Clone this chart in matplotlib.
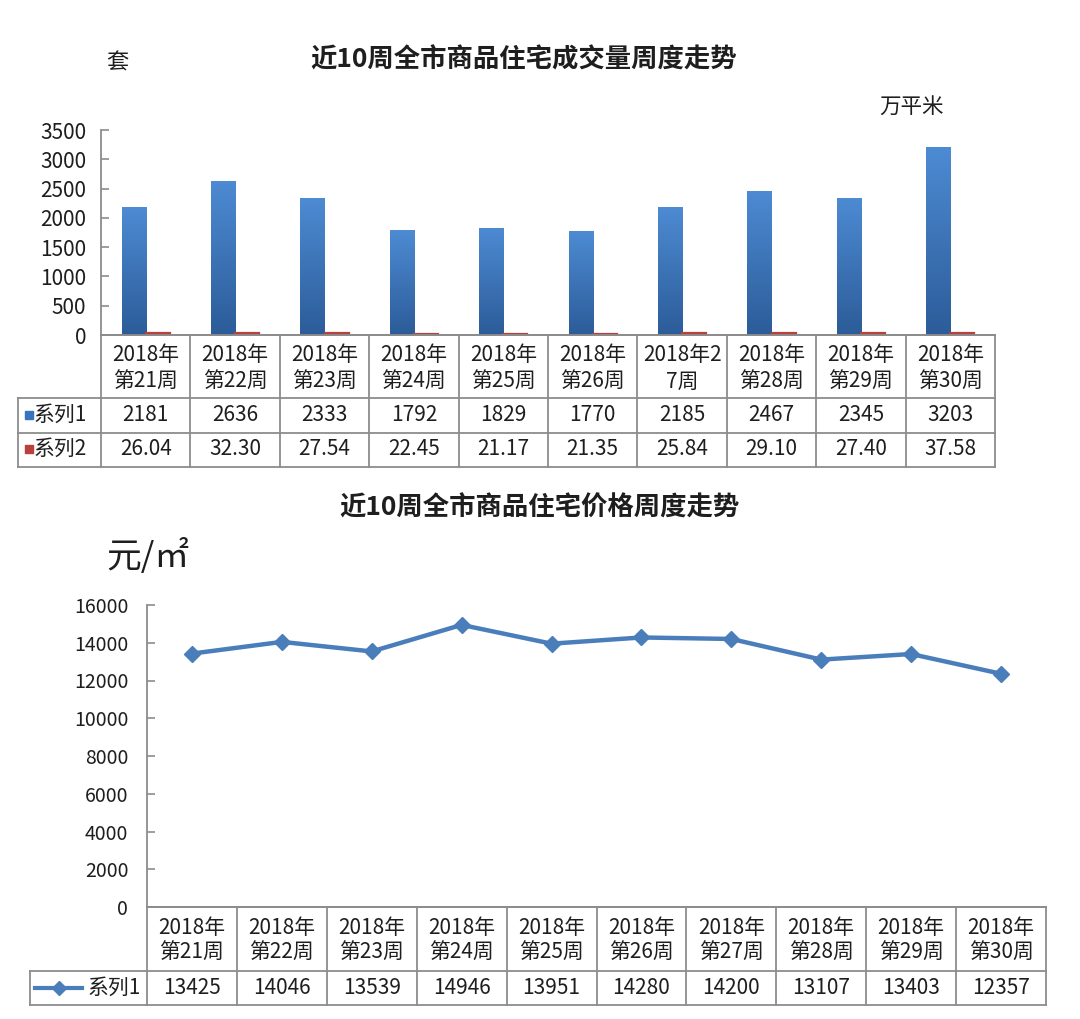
import matplotlib
matplotlib.use('Agg')
import matplotlib.pyplot as plt
import numpy as np
from matplotlib.transforms import blended_transform_factory
from matplotlib.colors import LinearSegmentedColormap
from matplotlib.lines import Line2D

plt.rcParams['font.family'] = ['Noto Sans CJK SC', 'DejaVu Sans']

# ---------------- data ----------------
title1 = '近10周全市商品住宅成交量周度走势'
title2 = '近10周全市商品住宅价格周度走势'
unit_left1 = '套'
unit_right1 = '万平米'
unit2 = '元/㎡'
cats1 = ['2018年\n第21周', '2018年\n第22周', '2018年\n第23周', '2018年\n第24周',
         '2018年\n第25周', '2018年\n第26周', '2018年2\n7周', '2018年\n第28周',
         '2018年\n第29周', '2018年\n第30周']
cats2 = ['2018年\n第21周', '2018年\n第22周', '2018年\n第23周', '2018年\n第24周',
         '2018年\n第25周', '2018年\n第26周', '2018年\n第27周', '2018年\n第28周',
         '2018年\n第29周', '2018年\n第30周']
series1_name = '系列1'
series2_name = '系列2'
units_sold = [2181, 2636, 2333, 1792, 1829, 1770, 2185, 2467, 2345, 3203]
area_sold = [26.04, 32.30, 27.54, 22.45, 21.17, 21.35, 25.84, 29.10, 27.40, 37.58]
price = [13425, 14046, 13539, 14946, 13951, 14280, 14200, 13107, 13403, 12357]
yticks1 = [0, 500, 1000, 1500, 2000, 2500, 3000, 3500]
yticks2 = [0, 2000, 4000, 6000, 8000, 10000, 12000, 14000, 16000]

# ---------------- style ----------------
W, H, DPI = 1080, 1019, 100
BLUE_TOP, BLUE_BOT = '#4d8bd3', '#2c5c99'
RED = '#b8403d'
LINE = '#4a7ebb'
GRID = '#8c8c8c'
TXT = '#1e1e1e'

fig = plt.figure(figsize=(W / DPI, H / DPI), dpi=DPI)
fig.patch.set_facecolor('white')


def fy(py):
    return 1 - py / H


def fx(px):
    return px / W


def px_axes(l, t, r, b):
    return fig.add_axes([l / W, 1 - b / H, (r - l) / W, (b - t) / H])


def style_axes(ax, ticks, labelsize, pad):
    for s in ['top', 'right']:
        ax.spines[s].set_visible(False)
    for s in ['left', 'bottom']:
        ax.spines[s].set_color(GRID)
        ax.spines[s].set_linewidth(1.3)
    ax.set_yticks(ticks)
    ax.set_yticklabels([str(t) for t in ticks])
    ax.tick_params(axis='y', direction='in', length=6, width=1.2, color=GRID,
                   labelsize=labelsize, labelcolor=TXT, pad=pad)
    ax.set_xticks([])


def hline(x0, x1, y, trans):
    fig.add_artist(Line2D([x0, x1], [fy(y), fy(y)], transform=trans,
                          color=GRID, lw=1.3))


def vline(x, y0, y1, trans):
    fig.add_artist(Line2D([x, x], [fy(y0), fy(y1)], transform=trans,
                          color=GRID, lw=1.3))


def draw_table(ax, headers, rows, leg_left_px, y_top, y_hdr, row_bottoms,
               hdr_y, row_ys, fs):
    n = len(headers)
    trans = blended_transform_factory(ax.transData, fig.transFigure)
    bounds = np.arange(n + 1) - 0.5
    y_bottom = row_bottoms[-1]
    # horizontal lines
    for yb in [y_hdr] + list(row_bottoms):
        hline(bounds[0], bounds[-1], yb, trans)
        hline(fx(leg_left_px), ax.get_position().x0, yb, fig.transFigure)
    hline(bounds[0], bounds[-1], y_top, trans)
    # vertical lines
    for b in bounds:
        vline(b, y_top, y_bottom, trans)
    vline(fx(leg_left_px), y_hdr, y_bottom, fig.transFigure)
    # header text
    for i, lab in enumerate(headers):
        l1, l2 = lab.split('\n')
        fig.text(i, fy(hdr_y[0]), l1, transform=trans, ha='center', va='center',
                 fontsize=fs, color=TXT)
        fig.text(i, fy(hdr_y[1]), l2, transform=trans, ha='center', va='center',
                 fontsize=fs, color=TXT)
    # row values
    for vals, yc in zip(rows, row_ys):
        for i, v in enumerate(vals):
            fig.text(i, fy(yc), v, transform=trans, ha='center', va='center',
                     fontsize=fs, color=TXT)


# ================= Chart 1 =================
ax1 = px_axes(101, 130, 995, 335)
n = len(units_sold)
x = np.arange(n)
bw = 0.27
blue_cmap = LinearSegmentedColormap.from_list('b', [BLUE_BOT, BLUE_TOP])
bars = ax1.bar(x - bw / 2, units_sold, bw, color=BLUE_BOT, zorder=2)
grad = np.linspace(1, 0, 256).reshape(-1, 1)
for b in bars:
    im = ax1.imshow(grad, extent=[b.get_x(), b.get_x() + b.get_width(), 0, b.get_height()],
                    aspect='auto', cmap=blue_cmap, origin='upper', zorder=3, vmin=0, vmax=1)
    im.set_clip_path(b)
ax1.bar(x + bw / 2, area_sold, bw, color=RED, edgecolor=RED, lw=1.6, zorder=3)
ax1.set_xlim(-0.5, n - 0.5)
ax1.set_ylim(0, 3500)
style_axes(ax1, yticks1, 15, 10.5)

fig.text(fx(524), fy(60), title1, ha='center', va='center', fontsize=19,
         fontweight='bold', color=TXT)
fig.text(fx(117), fy(63), unit_left1, ha='center', va='center', fontsize=16, color=TXT)
fig.text(fx(911), fy(107), unit_right1, ha='center', va='center', fontsize=15.5, color=TXT)

draw_table(ax1, cats1,
           [[str(v) for v in units_sold], ['%.2f' % v for v in area_sold]],
           18, 335, 398, [433, 467], (355, 382), (415, 449), 15)
# legend keys in table
fig.add_artist(Line2D([fx(29)], [fy(415)], marker='s', markersize=5.5, color='#3a73bd',
                      transform=fig.transFigure, lw=0))
fig.text(fx(34), fy(415), series1_name, ha='left', va='center', fontsize=15, color=TXT)
fig.add_artist(Line2D([fx(29)], [fy(449)], marker='s', markersize=5.5, color=RED,
                      transform=fig.transFigure, lw=0))
fig.text(fx(34), fy(449), series2_name, ha='left', va='center', fontsize=15, color=TXT)

# ================= Chart 2 =================
ax2 = px_axes(147, 605, 1046, 907)
ax2.plot(x, price, color=LINE, lw=3.2, marker='D', markersize=8.5,
         markerfacecolor=LINE, markeredgecolor=LINE, zorder=3, clip_on=False)
ax2.set_xlim(-0.5, n - 0.5)
ax2.set_ylim(0, 16000)
style_axes(ax2, yticks2, 14, 13.5)

fig.text(fx(539), fy(508), title2, ha='center', va='center', fontsize=19,
         fontweight='bold', color=TXT)
fig.text(fx(106), fy(557), unit2, ha='left', va='center', fontsize=25, color=TXT)

draw_table(ax2, cats2, [[str(v) for v in price]],
           30, 907, 971, [1005], (928, 953), (988,), 15)
fig.add_artist(Line2D([fx(35), fx(82)], [fy(988), fy(988)], color=LINE, lw=3,
                      transform=fig.transFigure))
fig.add_artist(Line2D([fx(58.5)], [fy(988)], marker='D', markersize=7, color=LINE,
                      transform=fig.transFigure, lw=0))
fig.text(fx(88), fy(988), series1_name, ha='left', va='center', fontsize=15, color=TXT)

fig.savefig('out.png', dpi=DPI)
